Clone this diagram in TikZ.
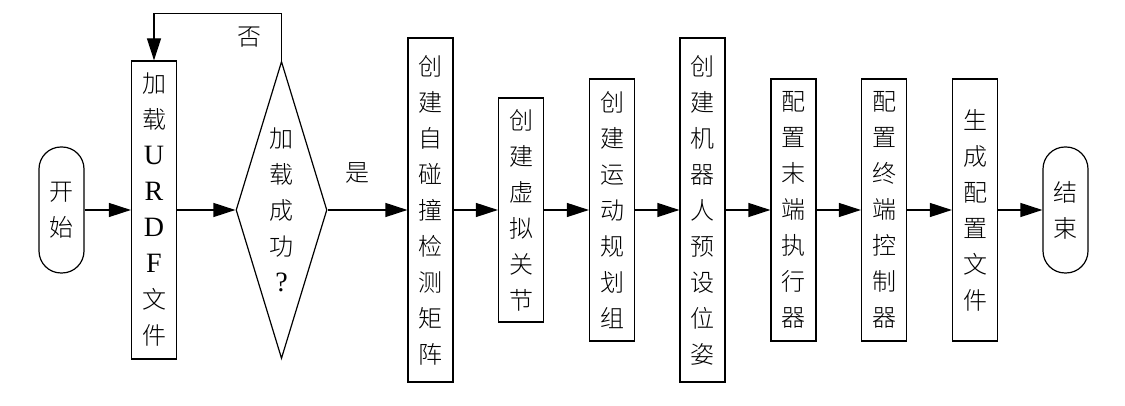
\documentclass[tikz,border=0pt]{standalone}
\usepackage{fontspec}
\setmainfont{Liberation Serif}
\newfontfamily\cjk{Noto Sans CJK SC}[UprightFont=* Light]
\usepackage{tikz}
\usetikzlibrary{shapes,arrows,positioning,calc,arrows.meta}

\newcommand{\lat}[1]{{\rmfamily\fontsize{28}{36}\selectfont #1}}

\begin{document}
\begin{tikzpicture}[x=1pt,y=1pt,
    every node/.style={font=\cjk\fontsize{24}{36}\selectfont},
    box/.style={draw, line width=1.2pt, minimum width=45pt, align=center, inner sep=2pt},
    term/.style={draw, line width=1.2pt, rounded corners=22pt, minimum width=45pt, minimum height=126pt, align=center},
    choice/.style={draw, line width=1.2pt, diamond, aspect=0.31, minimum width=91pt, minimum height=297pt, inner sep=0pt, align=center},
    arr/.style={-{Triangle[length=22pt,width=14pt]}, line width=1.2pt}]
    \useasboundingbox (0,0) rectangle (1125,406);
    \node[term] (start) at (61.5,196) {开\\始};
    \node[box, minimum height=298pt] (urdf) at (154,196) {加\\载\\\lat{U}\\\lat{R}\\\lat{D}\\\lat{F}\\文\\件};
    \node[choice] (ok) at (281.5,196) {加\\载\\成\\功\\\lat{?}};
    \node[box, minimum height=344pt] (b1) at (430.5,196) {创\\建\\自\\碰\\撞\\检\\测\\矩\\阵};
    \node[box, minimum height=224pt] (b2) at (521,196) {创\\建\\虚\\拟\\关\\节};
    \node[box, minimum height=262pt] (b3) at (612,196) {创\\建\\运\\动\\规\\划\\组};
    \node[box, minimum height=344pt] (b4) at (702.5,196) {创\\建\\机\\器\\人\\预\\设\\位\\姿};
    \node[box, minimum height=262pt] (b5) at (793.5,196) {配\\置\\末\\端\\执\\行\\器};
    \node[box, minimum height=262pt] (b6) at (884,196) {配\\置\\终\\端\\控\\制\\器};
    \node[box, minimum height=262pt] (b7) at (975,196) {生\\成\\配\\置\\文\\件};
    \node[term] (stop) at (1065.5,196) {结\\束};
    % labels
    \node (no) at (249,369) {否};
    \node (yes) at (357,233) {是};
    % connectors
    \foreach \a/\b in {start/urdf, urdf/ok, ok/b1, b1/b2, b2/b3, b3/b4, b4/b5, b5/b6, b6/b7, b7/stop}
        \draw[arr] (\a.east) -- (\b.west);
    \draw[arr] (ok.north) -- ++(0,47) -| (urdf.north);
\end{tikzpicture}
\end{document}
